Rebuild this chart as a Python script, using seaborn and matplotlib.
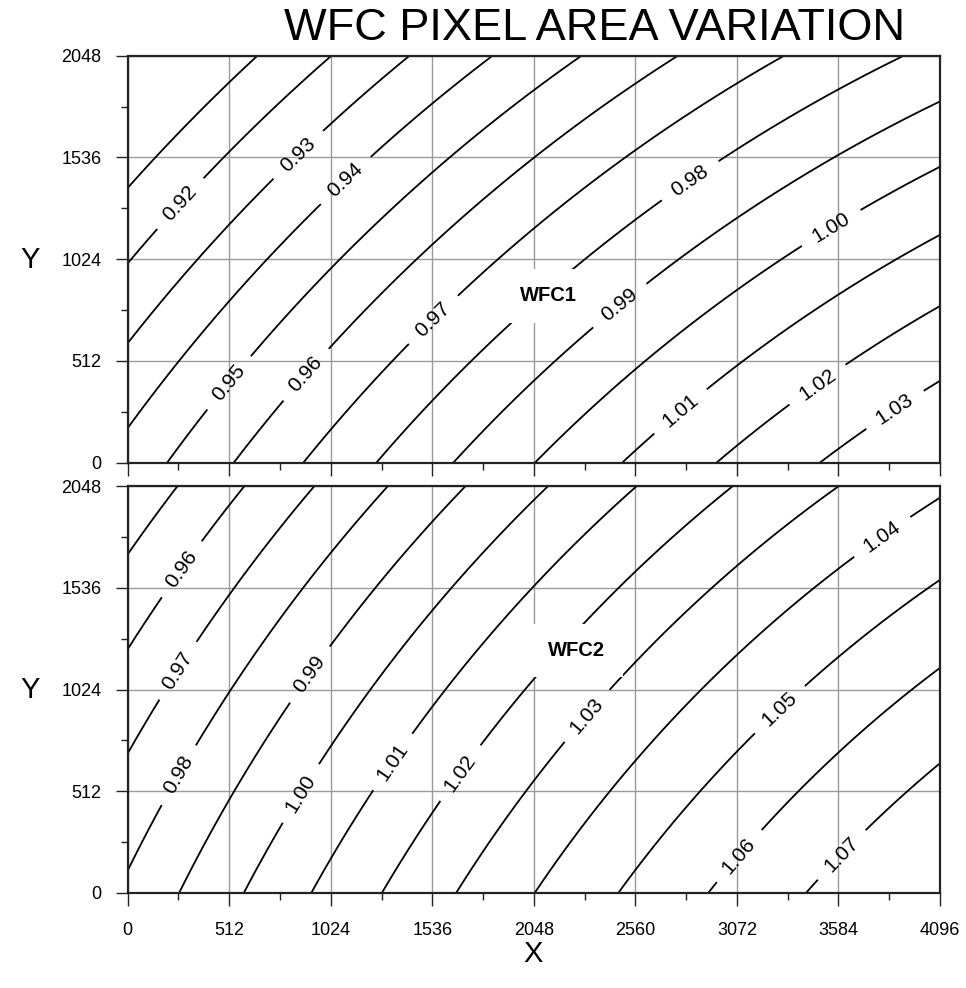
import numpy as np
import matplotlib
matplotlib.use("Agg")
import matplotlib.pyplot as plt
import seaborn as sns

sns.set_theme(style="ticks")
plt.rcParams['font.family'] = ['Liberation Sans', 'DejaVu Sans']
plt.rcParams['text.color'] = 'black'
plt.rcParams['xtick.color'] = 'black'
plt.rcParams['ytick.color'] = 'black'
plt.rcParams['xtick.labelcolor'] = 'black'
plt.rcParams['ytick.labelcolor'] = 'black'

# ---------------- data ----------------
title = "WFC PIXEL AREA VARIATION"
x_ticks = [0, 512, 1024, 1536, 2048, 2560, 3072, 3584, 4096]
y_ticks = [0, 512, 1024, 1536, 2048]

# WFC1: points lying on each contour (level, x, y)
wfc1_level = [0.91, 0.91,
              0.92, 0.92,
              0.93, 0.93, 0.93,
              0.94, 0.94,
              0.95, 0.95, 0.95, 0.95,
              0.96, 0.96, 0.96, 0.96,
              0.97, 0.97, 0.97, 0.97, 0.97,
              0.98, 0.98, 0.98,
              0.99, 0.99, 0.99, 0.99,
              1.00, 1.00, 1.00,
              1.01, 1.01, 1.01,
              1.02, 1.02, 1.02,
              1.03, 1.03]
wfc1_x = [0, 672,
          0, 1037,
          0, 1436, 1024,
          0, 1856,
          205, 2298, 1024, 2048,
          533, 2781, 1024, 2048,
          886, 3307, 1024, 2048, 3072,
          1256, 3891, 3072,
          1642, 4096, 2048, 3072,
          2050, 4096, 3072,
          2483, 4096, 3072,
          2951, 4096, 3072,
          3450, 4096]
wfc1_y = [1389, 2048,
          1011, 2048,
          592, 2048, 1704,
          165, 2048,
          0, 2048, 1050, 1921,
          0, 2048, 579, 1530,
          0, 2048, 160, 1169, 1907,
          0, 2048, 1574,
          0, 1825, 395, 1221,
          0, 1493, 847,
          0, 1137, 475,
          0, 777, 71,
          0, 416]
wfc1_levels = [0.91, 0.92, 0.93, 0.94, 0.95, 0.96, 0.97, 0.98, 0.99,
               1.00, 1.01, 1.02, 1.03]
wfc1_label_x = [264, 869, 1113, 525, 920, 1550, 2845, 2500, 3559, 2803, 3492, 3870]
wfc1_label_y = [1305, 1540, 1406, 391, 425, 710, 1406, 768, 1162, 240, 374, 265]

# WFC2
wfc2_level = [0.95, 0.95,
              0.96, 0.96,
              0.97, 0.97,
              0.98, 0.98, 0.98,
              0.99, 0.99, 0.99,
              1.00, 1.00, 1.00, 1.00,
              1.01, 1.01, 1.01, 1.01,
              1.02, 1.02, 1.02,
              1.03, 1.03, 1.03, 1.03,
              1.04, 1.04, 1.04,
              1.05, 1.05, 1.05,
              1.06, 1.06,
              1.07, 1.07]
wfc2_x = [0, 250,
          0, 583,
          0, 936,
          0, 1307, 1024,
          255, 1693, 1024,
          583, 2114, 1024, 2048,
          923, 2568, 1024, 2048,
          1281, 3055, 2048,
          1660, 3585, 2048, 3072,
          2050, 4096, 3072,
          2483, 4096, 3072,
          2937, 4096,
          3425, 4096]
wfc2_y = [1699, 2048,
          1213, 2048,
          688, 2048,
          114, 2048, 1721,
          0, 2048, 1255,
          0, 2048, 778, 1980,
          0, 2048, 156, 1471,
          0, 2048, 1070,
          0, 2048, 556, 1644,
          0, 1985, 1235,
          0, 1582, 743,
          0, 1129,
          0, 651]
wfc2_levels = [0.95, 0.96, 0.97, 0.98, 0.99, 1.00, 1.01, 1.02, 1.03,
               1.04, 1.05, 1.06, 1.07]
wfc2_label_x = [281, 264, 272, 936, 886, 1348, 1693, 2332, 3812, 3307, 3097, 3610]
wfc2_label_y = [1624, 1112, 584, 1087, 492, 651, 592, 878, 1783, 903, 173, 181]

chip_names = ["WFC1", "WFC2"]
chip_name_x = [2122, 2265]
chip_name_y = [839, 1221]


def fit_surface(xs, ys, vs, deg=2):
    u = np.asarray(xs, float) / 4096.0
    w = np.asarray(ys, float) / 2048.0
    terms = [(i, j) for i in range(deg + 1) for j in range(deg + 1 - i)]
    A = np.column_stack([u ** i * w ** j for i, j in terms])
    coef, *_ = np.linalg.lstsq(A, np.asarray(vs, float), rcond=None)
    gx = np.linspace(0, 4096, 400)
    gy = np.linspace(0, 2048, 250)
    GX, GY = np.meshgrid(gx, gy)
    Z = np.zeros_like(GX)
    for c, (i, j) in zip(coef, terms):
        Z += c * (GX / 4096.0) ** i * (GY / 2048.0) ** j
    return GX, GY, Z


fig = plt.figure(figsize=(9.66, 9.88), dpi=100)
left = 127.7 / 966
width = (940.0 - 127.7) / 966
ax1 = fig.add_axes([left, 1 - 462.7 / 988, width, (462.7 - 55.7) / 988])
ax2 = fig.add_axes([left, 1 - 892.7 / 988, width, (892.7 - 486.3) / 988])

panels = [
    (ax1, wfc1_level, wfc1_x, wfc1_y, wfc1_levels, wfc1_label_x, wfc1_label_y),
    (ax2, wfc2_level, wfc2_x, wfc2_y, wfc2_levels, wfc2_label_x, wfc2_label_y),
]

for k, (ax, lv, xs, ys, levels, lx, ly) in enumerate(panels):
    GX, GY, Z = fit_surface(xs, ys, lv, deg=2)
    ax.set_xlim(0, 4096)
    ax.set_ylim(0, 2048)
    cs = ax.contour(GX, GY, Z, levels=levels, colors='black', linewidths=1.3)
    ax.clabel(cs, inline=True, inline_spacing=14, fmt='%.2f',
              fontsize=15, manual=list(zip(lx, ly)))
    ax.set_xticks(x_ticks)
    ax.set_yticks(y_ticks)
    ax.set_xticks(np.arange(256, 4096, 512), minor=True)
    ax.set_yticks(np.arange(256, 2048, 512), minor=True)
    ax.grid(True, which='major', color='#9a9a9a', linewidth=1.0)
    ax.set_axisbelow(True)
    ax.tick_params(which='major', direction='out', length=9, width=1.0,
                   color='#222222', labelsize=13, pad=10,
                   bottom=True, left=True, top=False, right=False)
    ax.tick_params(which='minor', direction='out', length=4.8, width=1.0,
                   color='#222222', bottom=True, left=True, top=False, right=False)
    if k == 0:
        ax.tick_params(labelbottom=False)
    else:
        ax.tick_params(axis='x', pad=12)
    for sp in ax.spines.values():
        sp.set_color('#222222')
        sp.set_linewidth(1.6)
    ax.text(chip_name_x[k], chip_name_y[k], chip_names[k], ha='center', va='center',
            fontsize=14.5, fontweight='bold', zorder=6, color='black',
            bbox=dict(boxstyle='square,pad=0.85', fc='white', ec='none'))

fig.text(594 / 966, 1 - 28 / 988, title, ha='center', va='center', fontsize=32.5)
fig.text(30 / 966, 1 - 260 / 988, 'Y', ha='center', va='center', fontsize=21)
fig.text(30 / 966, 1 - 690 / 988, 'Y', ha='center', va='center', fontsize=21)
fig.text(533 / 966, 1 - 954 / 988, 'X', ha='center', va='center', fontsize=21)

fig.savefig("out.png", dpi=100, facecolor='white')
